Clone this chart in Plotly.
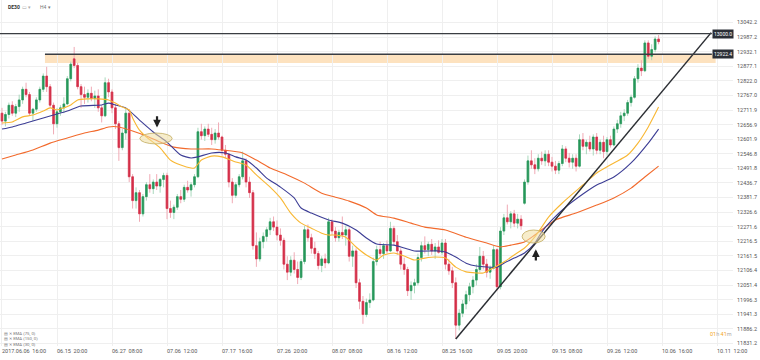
import plotly.graph_objects as go

# ---------------- data (DE30, H4-style bars) ----------------
opens = [
    12700, 12670, 12695, 12730, 12700, 12725, 12750, 12790, 12770, 12700,
    12715, 12750, 12790, 12840, 12800, 12730, 12660, 12705, 12720, 12735,
    12830, 12905, 12880, 12800, 12770, 12760, 12775, 12755, 12765, 12720,
    12690, 12815, 12780, 12720, 12660, 12570, 12625, 12700, 12460, 12370,
    12400, 12320, 12385, 12430, 12415, 12440, 12425, 12450, 12465, 12340,
    12325, 12345, 12385, 12375, 12420, 12410, 12430, 12460, 12630, 12615,
    12640, 12620, 12600, 12625, 12610, 12560, 12545, 12440, 12390, 12430,
    12460, 12520, 12440, 12400, 12200, 12150, 12215, 12235, 12260, 12290,
    12270, 12240, 12220, 12130, 12100, 12145, 12110, 12080, 12140, 12260,
    12230, 12190, 12170, 12125, 12150, 12135, 12290, 12255, 12230, 12250,
    12240, 12260, 12160, 12180, 12060, 11990, 11940, 11985, 11995, 12140,
    12185, 12170, 12200, 12180, 12265, 12215, 12180, 12130, 12110, 12030,
    12050, 12060, 12155, 12200, 12185, 12205, 12180, 12195, 12175, 12210,
    12130, 12105, 12060, 11900, 11945, 11980, 12015, 12045, 12070, 12110,
    12160, 12130, 12100, 12115, 12185, 12045, 12255, 12305, 12290, 12320,
    12285, 12300, 12360, 12440, 12520, 12505, 12490, 12530, 12520, 12545,
    12515, 12500, 12485, 12510, 12565, 12530, 12515, 12530, 12500, 12600,
    12575, 12590, 12565, 12610, 12560, 12590, 12555, 12600, 12580, 12640,
    12660, 12690, 12700, 12740, 12760, 12830, 12870, 12860, 12965, 12915,
    12940, 12980,
]
highs = [
    12720, 12705, 12740, 12745, 12735, 12770, 12800, 12815, 12780, 12720,
    12760, 12800, 12850, 12875, 12810, 12740, 12720, 12730, 12760, 12840,
    12895, 12950, 12890, 12810, 12800, 12790, 12800, 12785, 12790, 12730,
    12835, 12830, 12790, 12735, 12670, 12640, 12720, 12715, 12470, 12420,
    12410, 12395, 12440, 12470, 12450, 12470, 12455, 12475, 12475, 12370,
    12355, 12395, 12410, 12430, 12445, 12440, 12470, 12645, 12660, 12650,
    12660, 12645, 12640, 12665, 12615, 12580, 12550, 12455, 12440, 12470,
    12555, 12530, 12460, 12410, 12250, 12230, 12250, 12270, 12305, 12310,
    12295, 12265, 12230, 12160, 12160, 12175, 12140, 12150, 12275, 12280,
    12245, 12215, 12180, 12160, 12170, 12305, 12300, 12270, 12260, 12310,
    12275, 12270, 12200, 12190, 12075, 12010, 12000, 12020, 12155, 12200,
    12215, 12210, 12220, 12290, 12275, 12240, 12190, 12155, 12120, 12065,
    12075, 12170, 12215, 12235, 12215, 12225, 12210, 12220, 12225, 12225,
    12150, 12120, 12080, 11960, 11995, 12030, 12060, 12085, 12130, 12195,
    12180, 12150, 12125, 12200, 12190, 12270, 12320, 12355, 12330, 12335,
    12320, 12315, 12450, 12540, 12560, 12530, 12545, 12555, 12560, 12560,
    12535, 12520, 12520, 12580, 12575, 12550, 12545, 12545, 12620, 12625,
    12600, 12615, 12620, 12625, 12600, 12615, 12610, 12615, 12650, 12675,
    12705, 12715, 12750, 12770, 12840, 12885, 12900, 12975, 12975, 12960,
    12990, 12995,
]
lows = [
    12655, 12650, 12680, 12690, 12685, 12705, 12735, 12760, 12690, 12670,
    12705, 12740, 12780, 12780, 12720, 12620, 12645, 12690, 12700, 12730,
    12820, 12870, 12790, 12720, 12735, 12740, 12745, 12720, 12705, 12665,
    12685, 12760, 12700, 12640, 12520, 12560, 12600, 12440, 12340, 12340,
    12290, 12310, 12370, 12400, 12395, 12410, 12400, 12420, 12300, 12305,
    12300, 12335, 12360, 12365, 12400, 12385, 12420, 12455, 12600, 12595,
    12610, 12580, 12585, 12600, 12540, 12530, 12420, 12360, 12380, 12420,
    12450, 12420, 12380, 12185, 12120, 12140, 12190, 12215, 12240, 12255,
    12220, 12200, 12110, 12070, 12085, 12095, 12055, 12070, 12130, 12215,
    12170, 12150, 12110, 12100, 12115, 12130, 12240, 12215, 12215, 12225,
    12200, 12140, 12120, 12040, 11960, 11905, 11930, 11965, 11990, 12125,
    12160, 12150, 12170, 12175, 12200, 12165, 12110, 12090, 12010, 11995,
    12020, 12050, 12140, 12170, 12160, 12165, 12150, 12170, 12165, 12110,
    12090, 12040, 11848, 11880, 11930, 11960, 11990, 12020, 12050, 12100,
    12110, 12080, 12075, 12110, 12030, 12035, 12240, 12280, 12265, 12270,
    12265, 12260, 12355, 12430, 12490, 12470, 12480, 12505, 12500, 12500,
    12480, 12470, 12470, 12500, 12515, 12495, 12490, 12480, 12495, 12560,
    12545, 12555, 12540, 12545, 12545, 12530, 12540, 12570, 12575, 12625,
    12645, 12670, 12690, 12725, 12755, 12815, 12840, 12855, 12905, 12900,
    12930, 12960,
]
closes = [
    12670, 12695, 12730, 12700, 12725, 12750, 12790, 12770, 12700, 12715,
    12750, 12790, 12840, 12800, 12730, 12660, 12705, 12720, 12735, 12830,
    12885, 12880, 12800, 12770, 12760, 12775, 12755, 12765, 12720, 12690,
    12815, 12780, 12720, 12660, 12570, 12625, 12700, 12460, 12370, 12400,
    12320, 12385, 12430, 12415, 12440, 12425, 12450, 12465, 12340, 12325,
    12345, 12385, 12375, 12420, 12410, 12430, 12460, 12630, 12615, 12640,
    12620, 12600, 12625, 12610, 12560, 12545, 12440, 12390, 12430, 12460,
    12520, 12440, 12400, 12200, 12150, 12215, 12235, 12260, 12290, 12270,
    12240, 12220, 12130, 12100, 12145, 12110, 12080, 12140, 12260, 12230,
    12190, 12170, 12125, 12150, 12135, 12290, 12255, 12230, 12250, 12240,
    12260, 12160, 12180, 12060, 11990, 11940, 11985, 11995, 12140, 12185,
    12170, 12200, 12180, 12265, 12215, 12180, 12130, 12110, 12030, 12050,
    12060, 12155, 12200, 12185, 12205, 12180, 12195, 12175, 12210, 12130,
    12105, 12060, 11900, 11945, 11980, 12015, 12045, 12070, 12110, 12160,
    12130, 12100, 12115, 12185, 12045, 12255, 12305, 12290, 12320, 12285,
    12300, 12275, 12440, 12520, 12505, 12490, 12530, 12520, 12545, 12515,
    12500, 12485, 12510, 12565, 12530, 12515, 12530, 12500, 12600, 12575,
    12590, 12565, 12610, 12560, 12590, 12555, 12600, 12580, 12640, 12660,
    12690, 12700, 12740, 12760, 12830, 12870, 12860, 12965, 12915, 12940,
    12980, 12970,
]
bar_idx = list(range(len(closes)))

tick_idx = [0, 16, 32, 48, 64, 80, 96, 112, 128, 144, 160, 176, 192, 208]
tick_text = ["2017.06.06  16:00", "06.15  20:00", "06.27  08:00", "07.06  12:00",
             "07.17  16:00", "07.26  20:00", "08.07  08:00", "08.16  12:00",
             "08.25  16:00", "09.05  20:00", "09.15  08:00", "09.26  12:00",
             "10.06  16:00", "10.11  12:00"]
price_ticks = [13042.2, 12987.2, 12932.1, 12877.1, 12822.0, 12767.0, 12711.9,
               12656.9, 12601.9, 12546.8, 12491.8, 12436.7, 12381.7, 12326.6,
               12271.6, 12216.5, 12161.5, 12106.4, 12051.4, 11996.3, 11941.3,
               11886.2, 11831.2]

ema30_idx = [0, 3, 6, 9, 12, 14, 16, 18, 20, 22, 25, 28, 31, 33, 35, 37, 38, 40, 42, 46,
             49, 52, 55, 56, 58, 61, 64, 68, 71, 74, 78, 81, 84, 87, 90, 93, 95, 97, 100, 103,
             106, 109, 111, 114, 117, 120, 123, 126, 129, 132, 135, 138, 140, 143, 146, 149,
             152, 155, 157, 159, 163, 169, 173, 178, 182, 185, 188, 191]
ema30_val = [12663, 12667, 12686, 12693, 12708, 12720, 12712, 12720, 12731, 12750,
             12754, 12754, 12750, 12738, 12723, 12712, 12682, 12636, 12610, 12569,
             12523, 12504, 12493, 12493, 12523, 12538, 12535, 12516, 12504, 12467,
             12421, 12380, 12323, 12285, 12266, 12247, 12240, 12240, 12232, 12195,
             12165, 12146, 12165, 12172, 12161, 12146, 12153, 12157, 12153, 12119,
             12101, 12097, 12097, 12116, 12138, 12165, 12191, 12233, 12270, 12308,
             12361, 12429, 12474, 12512, 12542, 12587, 12648, 12723]
ema75_idx = [0, 3, 7, 12, 15, 19, 23, 29, 31, 33, 36, 40, 44, 48, 52, 55, 57, 61, 65, 68,
             71, 74, 77, 81, 85, 87, 90, 95, 99, 103, 106, 109, 114, 117, 120, 127, 129, 132,
             135, 138, 144, 146, 149, 152, 155, 157, 160, 164, 169, 173, 178, 183, 188, 191]
ema75_val = [12640, 12648, 12663, 12682, 12693, 12708, 12727, 12731, 12738, 12731,
             12720, 12674, 12629, 12591, 12542, 12531, 12535, 12550, 12550, 12535,
             12523, 12493, 12455, 12421, 12380, 12342, 12323, 12297, 12285, 12259,
             12229, 12206, 12202, 12191, 12180, 12180, 12176, 12157, 12134, 12123,
             12119, 12134, 12153, 12172, 12210, 12251, 12297, 12346, 12395, 12429,
             12459, 12512, 12587, 12640]
ema150_idx = [0, 4, 9, 14, 19, 24, 28, 31, 34, 38, 42, 46, 50, 55, 61, 64, 70, 74, 78, 83,
              88, 93, 97, 101, 106, 109, 114, 119, 123, 129, 135, 141, 145, 148, 152, 155,
              161, 167, 173, 178, 183, 187, 191]
ema150_val = [12527, 12542, 12561, 12587, 12606, 12625, 12636, 12648, 12648, 12633,
              12614, 12591, 12572, 12565, 12565, 12561, 12550, 12523, 12493, 12467,
              12436, 12398, 12383, 12368, 12342, 12316, 12304, 12285, 12270, 12259,
              12232, 12210, 12195, 12202, 12214, 12240, 12297, 12323, 12353, 12380,
              12417, 12459, 12500]

# drawn objects (levels, zone, trend line, markers)
level_top = 13000.0
level_low = 12922.4
zone_bottom = 12889.0
zone_start_idx = 12.5
level_end_idx = 206.5
zone_end_idx = 207.6
x_range = [-0.58, 212.65]
trend_x = [132, 206.3]
trend_y = [11848, 13004]
circle1 = dict(x0=40.1, x1=49.5, y0=12584, y1=12625)
circle2 = dict(x0=151.3, x1=158.0, y0=12210, y1=12259)
arrow_down = dict(x=45.1, tip=12646, tail=12694)
arrow_up = dict(x=155.3, tip=12186, tail=12138)

# ---------------- figure ----------------
G, LG = "#27975a", "#a9d8bd"
R, LR = "#d42f48", "#f0aab5"
FONT = "Roboto, Liberation Sans, sans-serif"

fig = go.Figure()
# wicks (light)
fig.add_trace(go.Candlestick(
    x=bar_idx, open=opens, high=highs, low=lows, close=closes,
    increasing=dict(line=dict(color=LG, width=1), fillcolor=LG),
    decreasing=dict(line=dict(color=LR, width=1), fillcolor=LR),
    whiskerwidth=0, hoverinfo="skip", showlegend=False))
# bodies (dark)
body_hi = [max(o, c) for o, c in zip(opens, closes)]
body_lo = [min(o, c) for o, c in zip(opens, closes)]
fig.add_trace(go.Candlestick(
    x=bar_idx, open=opens, high=body_hi, low=body_lo, close=closes,
    increasing=dict(line=dict(color=G, width=0.6), fillcolor=G),
    decreasing=dict(line=dict(color=R, width=0.6), fillcolor=R),
    whiskerwidth=0, hoverinfo="skip", showlegend=False))

for xs, ys, col in [(ema150_idx, ema150_val, "#f26a2c"),
                    (ema75_idx, ema75_val, "#3c3d95"),
                    (ema30_idx, ema30_val, "#f8b733")]:
    fig.add_trace(go.Scatter(x=xs, y=ys, mode="lines",
                             line=dict(color=col, width=1.1, shape="spline", smoothing=0.6),
                             hoverinfo="skip", showlegend=False))

fig.add_trace(go.Scatter(x=trend_x, y=trend_y, mode="lines",
                         line=dict(color="#2b2e33", width=1.5),
                         hoverinfo="skip", showlegend=False))

shapes = [
    dict(type="rect", xref="x", yref="y", x0=zone_start_idx, x1=zone_end_idx,
         y0=zone_bottom, y1=level_low, fillcolor="#fde2bf", line=dict(width=0), layer="below"),
    dict(type="line", xref="x", yref="y", x0=x_range[0], x1=level_end_idx,
         y0=level_top, y1=level_top, line=dict(color="#3a3d42", width=1.3)),
    dict(type="line", xref="x", yref="y", x0=zone_start_idx, x1=level_end_idx,
         y0=level_low, y1=level_low, line=dict(color="#3a3d42", width=1.5)),
    dict(type="circle", xref="x", yref="y", **circle1,
         fillcolor="rgba(240,222,160,0.55)", line=dict(color="rgba(200,180,110,0.9)", width=1)),
    dict(type="circle", xref="x", yref="y", **circle2,
         fillcolor="rgba(240,222,160,0.55)", line=dict(color="rgba(200,180,110,0.9)", width=1)),
]

ann = []
for lvl in (level_top, level_low):
    ann.append(dict(x=level_end_idx, y=lvl, xref="x", yref="y", text=f"{lvl:.1f}",
                    showarrow=False, xanchor="left", yanchor="middle",
                    font=dict(family=FONT, size=5, color="white"),
                    bgcolor="#2b2f36", borderpad=1))
for a in (arrow_down, arrow_up):
    ann.append(dict(x=a["x"], y=a["tip"], ax=a["x"], ay=a["tail"], xref="x", yref="y",
                    axref="x", ayref="y", text="", showarrow=True, arrowhead=2,
                    arrowsize=0.7, arrowwidth=2.2, arrowcolor="#222"))

PW, PH = 733.0, 346.0
def px(xp, yp, text, size=5, color="#555", anchor="left"):
    return dict(x=xp / PW, y=1 - yp / PH, xref="paper", yref="paper", text=text,
                showarrow=False, xanchor=anchor, yanchor="middle",
                font=dict(family=FONT, size=size, color=color))

ann.append(px(6, 7, "<b>DE30</b>", 5, "#333"))
ann.append(px(20, 7, "▭ ▾", 5, "#aaa"))
ann.append(px(38, 7, "H4 ▾", 5, "#777"))
legend_names = ["EMA (75, 0)", "EMA (150, 0)", "EMA (30, 0)"]
for k, nm in enumerate(legend_names):
    ann.append(px(2, 333 + 5.7 * k, "▤ ✕ " + nm, 4.3, "#777"))
ann.append(px(708, 334, "<span style='color:#f5a623'>01</span>h "
                        "<span style='color:#f5a623'>41</span>m", 5.5, "#aaa"))

fig.update_layout(
    width=760, height=360, margin=dict(l=0, r=27, t=0, b=14),
    plot_bgcolor="white", paper_bgcolor="white", showlegend=False,
    font=dict(family=FONT, size=5.5, color="#555"),
    shapes=shapes, annotations=ann,
)
fig.update_xaxes(range=x_range, tickvals=tick_idx, ticktext=tick_text,
                 ticklabelposition="outside right", ticks="", showgrid=True,
                 gridcolor="#efefef", gridwidth=1, zeroline=False, showline=False,
                 rangeslider_visible=False, tickfont=dict(family=FONT, size=5.5, color="#555"))
fig.update_yaxes(side="right", range=[11821.3, 13127.1], tickvals=price_ticks,
                 ticktext=[f"{v:.1f}" for v in price_ticks], ticks="", showgrid=True,
                 gridcolor="#efefef", gridwidth=1, zeroline=False, showline=False,
                 ticklabelstandoff=3, tickfont=dict(family=FONT, size=5.5, color="#555"))

fig.write_html("out.html", config={"displayModeBar": False},
               post_script="document.body.style.margin='0';document.body.style.padding='0';"
                           "document.body.style.overflow='hidden';")
